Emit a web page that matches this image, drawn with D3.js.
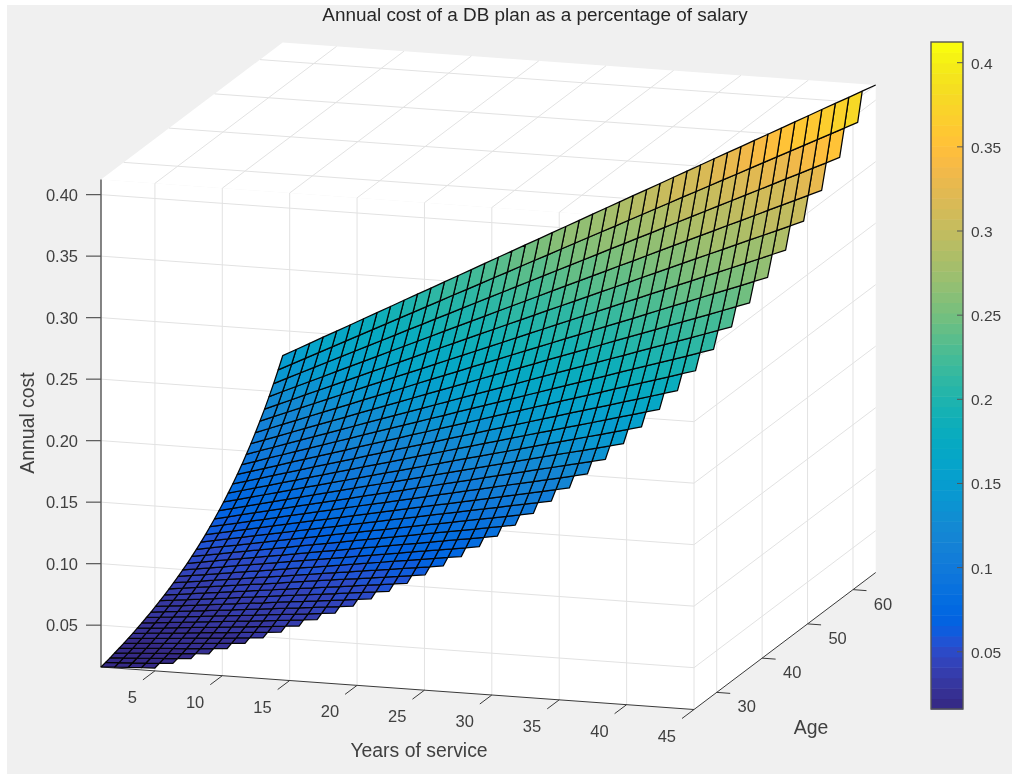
<!DOCTYPE html>
<html><head><meta charset="utf-8">
<script src="https://cdnjs.cloudflare.com/ajax/libs/d3/7.8.5/d3.min.js"></script>
<style>html,body{margin:0;padding:0;background:#fff}svg{display:block;filter:blur(0.4px)}text{font-family:"Liberation Sans",Arial,sans-serif}</style>
</head><body><svg id="c" width="1012" height="774"></svg>
<script>
const chartTitle = "Annual cost of a DB plan as a percentage of salary";
const xTicks = [5,10,15,20,25,30,35,40,45];
const yTicks = [30,40,50,60];
const zTicks = [0.05,0.10,0.15,0.20,0.25,0.30,0.35,0.40];
const barTicks = [0.05,0.1,0.15,0.2,0.25,0.3,0.35,0.4];
const xDomain = [1,45], yDomain = [25,65];
const firstAge = 25;
// Annual cost, in ten-thousandths of salary. One row per age (25..65), one entry per year of service (1,2,...).
const costByAge = [
[160,166,172,178,183],
[169,176,182,188,194,201],
[179,186,193,199,206,212,219],
[190,197,204,211,218,225,232,239],
[201,208,216,223,231,238,245,253,260],
[213,221,229,236,244,252,260,268,276,283],
[226,234,242,250,259,267,275,283,292,300,308],
[239,248,256,265,274,283,291,300,309,318,326,335],
[253,262,271,281,290,299,309,318,327,336,346,355,364],
[268,278,287,297,307,317,327,337,346,356,366,376,386,396],
[284,294,304,315,325,336,346,356,367,377,388,398,408,419,429],
[300,311,322,333,344,355,366,377,388,399,410,421,432,444,455,466],
[318,330,341,353,365,376,388,400,411,423,435,446,458,470,481,493,505],
[337,349,361,374,386,398,411,423,435,448,460,472,485,497,510,522,534,547],
[356,369,383,396,409,422,435,448,461,474,487,500,513,526,540,553,566,579,592],
[377,391,405,419,433,447,461,474,488,502,516,530,544,558,571,585,599,613,627,641],
[400,414,429,444,458,473,488,502,517,532,546,561,576,590,605,620,634,649,664,678,693],
[423,439,454,470,485,501,516,532,547,563,578,594,610,625,641,656,672,687,703,718,734,749],
[448,464,481,497,514,530,547,563,580,596,612,629,645,662,678,695,711,728,744,760,777,793,810],
[474,492,509,527,544,561,579,596,614,631,649,666,683,701,718,736,753,770,788,805,823,840,857,875],
[502,521,539,558,576,595,613,631,650,668,687,705,724,742,760,779,797,816,834,853,871,889,908,926,945],
[532,551,571,590,610,629,649,669,688,708,727,747,766,786,805,825,844,864,883,903,922,942,961,981,1000,1020],
[563,584,605,625,646,667,687,708,729,749,770,791,811,832,853,873,894,915,935,956,977,997,1018,1039,1059,1080,1101],
[596,618,640,662,684,706,728,750,772,793,815,837,859,881,903,925,947,969,990,1012,1034,1056,1078,1100,1122,1144,1166,1187],
[632,655,678,701,724,747,771,794,817,840,863,887,910,933,956,979,1002,1026,1049,1072,1095,1118,1142,1165,1188,1211,1234,1257,1281],
[669,693,718,742,767,791,816,840,865,890,914,939,963,988,1012,1037,1061,1086,1110,1135,1160,1184,1209,1233,1258,1282,1307,1331,1356,1380],
[708,734,760,786,812,838,864,890,916,942,968,994,1020,1046,1072,1098,1124,1150,1176,1202,1228,1254,1280,1306,1332,1358,1384,1409,1435,1461,1487],
[750,777,805,832,860,887,915,942,970,997,1025,1052,1080,1107,1135,1162,1190,1217,1245,1272,1300,1327,1355,1382,1410,1437,1465,1492,1520,1548,1575,1603],
[794,823,852,881,910,939,969,998,1027,1056,1085,1114,1143,1172,1202,1231,1260,1289,1318,1347,1376,1406,1435,1464,1493,1522,1551,1580,1609,1639,1668,1697,1726],
[841,871,902,933,964,995,1026,1056,1087,1118,1149,1180,1211,1242,1272,1303,1334,1365,1396,1427,1458,1488,1519,1550,1581,1612,1643,1673,1704,1735,1766,1797,1828,1859],
[890,923,955,988,1021,1053,1086,1119,1151,1184,1217,1249,1282,1315,1347,1380,1413,1445,1478,1511,1543,1576,1609,1641,1674,1707,1739,1772,1805,1837,1870,1903,1935,1968,2000],
[942,977,1012,1046,1081,1115,1150,1185,1219,1254,1288,1323,1358,1392,1427,1461,1496,1530,1565,1600,1634,1669,1703,1738,1773,1807,1842,1876,1911,1946,1980,2015,2049,2084,2119,2153],
[998,1035,1071,1108,1144,1181,1218,1254,1291,1328,1364,1401,1437,1474,1511,1547,1584,1620,1657,1694,1730,1767,1804,1840,1877,1913,1950,1987,2023,2060,2097,2133,2170,2206,2243,2280,2316],
[1057,1095,1134,1173,1212,1250,1289,1328,1367,1406,1444,1483,1522,1561,1600,1638,1677,1716,1755,1793,1832,1871,1910,1949,1987,2026,2065,2104,2142,2181,2220,2259,2298,2336,2375,2414,2453,2491],
[1119,1160,1201,1242,1283,1324,1365,1406,1447,1488,1529,1570,1612,1653,1694,1735,1776,1817,1858,1899,1940,1981,2022,2063,2104,2145,2186,2227,2268,2310,2351,2392,2433,2474,2515,2556,2597,2638,2679],
[1185,1228,1272,1315,1359,1402,1446,1489,1533,1576,1620,1663,1706,1750,1793,1837,1880,1924,1967,2011,2054,2098,2141,2185,2228,2272,2315,2359,2402,2446,2489,2533,2576,2620,2663,2706,2750,2793,2837,2880],
[1254,1300,1346,1393,1439,1485,1531,1577,1623,1669,1715,1761,1807,1853,1899,1945,1991,2037,2083,2129,2175,2221,2267,2313,2359,2405,2451,2497,2544,2590,2636,2682,2728,2774,2820,2866,2912,2958,3004,3050,3096],
[1328,1377,1426,1474,1523,1572,1621,1669,1718,1767,1816,1864,1913,1962,2011,2059,2108,2157,2206,2254,2303,2352,2401,2449,2498,2547,2596,2644,2693,2742,2791,2839,2888,2937,2986,3034,3083,3132,3181,3229,3278,3327],
[1406,1458,1510,1561,1613,1664,1716,1768,1819,1871,1923,1974,2026,2077,2129,2181,2232,2284,2335,2387,2439,2490,2542,2593,2645,2697,2748,2800,2851,2903,2955,3006,3058,3110,3161,3213,3264,3316,3368,3419,3471,3522,3574],
[1489,1544,1599,1653,1708,1762,1817,1872,1926,1981,2036,2090,2145,2200,2254,2309,2364,2418,2473,2528,2582,2637,2692,2746,2801,2855,2910,2965,3019,3074,3129,3183,3238,3293,3347,3402,3457,3511,3566,3621,3675,3730,3785,3839],
[1577,1635,1693,1751,1808,1866,1924,1982,2040,2098,2156,2213,2271,2329,2387,2445,2503,2561,2619,2676,2734,2792,2850,2908,2966,3024,3082,3139,3197,3255,3313,3371,3429,3487,3544,3602,3660,3718,3776,3834,3892,3950,4007,4065,4123]
];
const parula = [[.2081,.1663,.5292],[.2116,.1898,.5777],[.2123,.2138,.6270],[.2081,.2386,.6771],[.1959,.2645,.7279],[.1707,.2919,.7792],[.1253,.3242,.8303],[.0591,.3598,.8683],[.0117,.3875,.8820],[.0060,.4086,.8828],[.0165,.4266,.8786],[.0329,.4430,.8720],[.0498,.4586,.8641],[.0629,.4737,.8554],[.0723,.4887,.8467],[.0779,.5040,.8384],[.0793,.5200,.8312],[.0749,.5375,.8263],[.0641,.5570,.8240],[.0488,.5772,.8228],[.0343,.5966,.8199],[.0265,.6137,.8135],[.0239,.6287,.8038],[.0231,.6418,.7913],[.0228,.6535,.7768],[.0267,.6642,.7607],[.0384,.6743,.7436],[.0590,.6838,.7254],[.0843,.6928,.7062],[.1133,.7015,.6859],[.1453,.7098,.6646],[.1801,.7177,.6424],[.2178,.7250,.6193],[.2586,.7317,.5954],[.3022,.7376,.5712],[.3482,.7424,.5473],[.3953,.7459,.5244],[.4420,.7481,.5033],[.4871,.7491,.4840],[.5300,.7491,.4661],[.5709,.7485,.4494],[.6099,.7473,.4337],[.6473,.7456,.4188],[.6834,.7435,.4044],[.7184,.7411,.3905],[.7525,.7384,.3768],[.7858,.7356,.3633],[.8185,.7327,.3498],[.8507,.7299,.3360],[.8824,.7274,.3217],[.9139,.7258,.3063],[.9450,.7261,.2886],[.9739,.7314,.2666],[.9938,.7455,.2403],[.9990,.7653,.2164],[.9955,.7861,.1967],[.9880,.8066,.1794],[.9789,.8271,.1633],[.9697,.8481,.1475],[.9626,.8705,.1309],[.9589,.8949,.1132],[.9598,.9218,.0948],[.9661,.9514,.0755],[.9763,.9831,.0538]]
  .map(c => d3.rgb(c[0]*255,c[1]*255,c[2]*255).formatHex());

const rows = costByAge.map(r => r.map(v => v/10000));
const zDomain = [d3.min(rows.flat()), d3.max(rows.flat())];

// orthographic projection: origin + one screen vector per data axis, each driven by a d3 scale
const org = [101,667];
const sxX = d3.scaleLinear().domain(xDomain).range([0,593]);
const sxY = d3.scaleLinear().domain(xDomain).range([0,42.5]);
const syX = d3.scaleLinear().domain(yDomain).range([0,181.7]);
const syY = d3.scaleLinear().domain(yDomain).range([0,-137]);
const szY = d3.scaleLinear().domain(zDomain).range([0,-487.5]);
const P = (s,a,z) => [org[0]+sxX(s)+syX(a), org[1]+sxY(s)+syY(a)+szY(z)];
const pathLine = d3.line();
const faceColor = d3.scaleQuantize().domain(zDomain).range(parula);

const svg = d3.select("#c");
svg.append("rect").attr("x",7).attr("y",5).attr("width",1005).attr("height",769).attr("fill","#f0f0f0");

const [x0,x1]=xDomain,[y0,y1]=yDomain,[z0,z1]=zDomain;
const poly = pts => pathLine(pts)+"Z";
svg.append("path").attr("fill","#fff").attr("d",poly([P(x0,y0,z0),P(x1,y0,z0),P(x1,y0,z1),P(x0,y0,z1)]));
svg.append("path").attr("fill","#fff").attr("d",poly([P(x1,y0,z0),P(x1,y1,z0),P(x1,y1,z1),P(x1,y0,z1)]));
svg.append("path").attr("fill","#fff").attr("d",poly([P(x0,y0,z1),P(x1,y0,z1),P(x1,y1,z1),P(x0,y1,z1)]));

const grid = svg.append("g").attr("fill","none").attr("stroke","#e2e2e2").attr("stroke-width",1);
xTicks.forEach(s => grid.append("path").attr("d",pathLine([P(s,y0,z0),P(s,y0,z1),P(s,y1,z1)])));
yTicks.forEach(a => grid.append("path").attr("d",pathLine([P(x1,a,z0),P(x1,a,z1),P(x0,a,z1)])));
zTicks.forEach(z => grid.append("path").attr("d",pathLine([P(x0,y0,z),P(x1,y0,z),P(x1,y1,z)])));

// axis lines and ticks
const ax = svg.append("g").attr("fill","none").attr("stroke","#3a3a3a").attr("stroke-width",1);
ax.append("path").attr("d",pathLine([P(x0,y0,z0),P(x1,y0,z0),P(x1,y1,z0)]));
ax.append("path").attr("stroke","#666").attr("stroke-width",1.6).attr("d",pathLine([P(x0,y0,z1),P(x0,y0,z0)]));
xTicks.forEach(s => { const p=P(s,y0,z0); ax.append("path").attr("d",pathLine([p,[p[0]-12,p[1]+9]])); });
yTicks.forEach(a => { const p=P(x1,a,z0); ax.append("path").attr("d",pathLine([p,[p[0]+13.5,p[1]+1]])); });
zTicks.forEach(z => { const p=P(x0,y0,z); ax.append("path").attr("stroke","#555").attr("stroke-width",1.2).attr("d",pathLine([p,[p[0]-15,p[1]]])); });

// surface: far faces first
const surf = svg.append("g").attr("stroke","#050505").attr("stroke-width",1.25).attr("stroke-linejoin","round");
rows.slice(0,-1).forEach((r,i) => {
  const a=firstAge+i, up=rows[i+1];
  d3.range(r.length-2,-1,-1).forEach(j => {
    const s=j+1;
    surf.append("path").attr("fill",faceColor(r[j])).attr("d",poly([P(s,a,r[j]),P(s+1,a,r[j+1]),P(s+1,a+1,up[j+1]),P(s,a+1,up[j])]));
  });
});
const lastRow = rows[rows.length-1], n=lastRow.length, lastAge=firstAge+rows.length-1;
surf.append("path").attr("fill","none").attr("d",pathLine([P(n-1,lastAge,lastRow[n-2]),P(n,lastAge,lastRow[n-1])]));

// tick labels
const lab = svg.append("g").attr("fill","#404040").attr("font-size",16.5);
xTicks.forEach(s => { const p=P(s,y0,z0); lab.append("text").attr("x",p[0]-18).attr("y",p[1]+32).attr("text-anchor","end").text(s); });
yTicks.forEach(a => { const p=P(x1,a,z0); lab.append("text").attr("x",p[0]+30).attr("y",p[1]+20).attr("text-anchor","middle").text(a); });
zTicks.forEach(z => { const p=P(x0,y0,z); lab.append("text").attr("x",78).attr("y",p[1]+6).attr("text-anchor","end").text(z.toFixed(2)); });

svg.append("text").attr("x",535).attr("y",21).attr("text-anchor","middle").attr("font-size",18.9).attr("fill","#262626").text(chartTitle);
const al = svg.append("g").attr("fill","#404040").attr("font-size",19.4);
al.append("text").attr("x",419).attr("y",756.5).attr("text-anchor","middle").text("Years of service");
al.append("text").attr("x",811).attr("y",733.5).attr("text-anchor","middle").text("Age");
al.append("text").attr("transform","translate(34,423) rotate(-90)").attr("text-anchor","middle").text("Annual cost");

// colorbar
const barX=931, barW=32;
const barY = d3.scaleLinear().domain(zDomain).range([709,42]);
const barBands = d3.scaleBand().domain(d3.range(parula.length)).range([709,42]);
parula.forEach((c,i) => svg.append("rect").attr("x",barX).attr("width",barW).attr("y",barBands(i)).attr("height",barBands.bandwidth()+0.5).attr("fill",c));
svg.append("rect").attr("x",barX).attr("y",42).attr("width",barW).attr("height",667).attr("fill","none").attr("stroke","#555").attr("stroke-width",1.4);
barTicks.forEach(t => {
  svg.append("line").attr("x1",barX+barW-6).attr("x2",barX+barW).attr("y1",barY(t)).attr("y2",barY(t)).attr("stroke","#555");
  svg.append("text").attr("x",971).attr("y",barY(t)+6).attr("font-size",15.5).attr("fill","#404040").text(t);
});
</script></body></html>
